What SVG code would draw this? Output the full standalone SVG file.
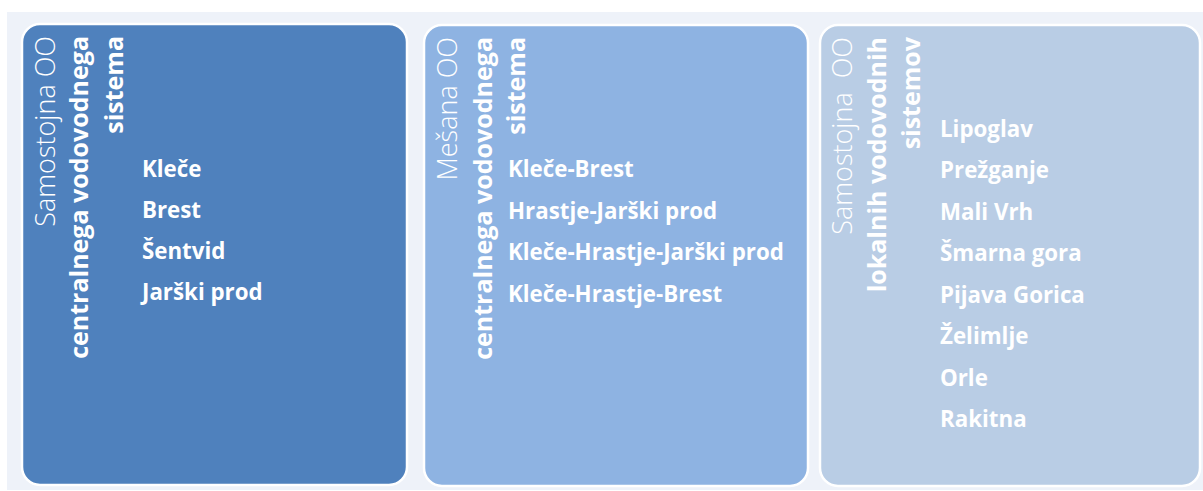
<svg xmlns="http://www.w3.org/2000/svg" width="1203" height="491" viewBox="0 0 1203 491">
  <style>
    .bg { fill: #EEF2F9; }
    .box { stroke: #FFFFFF; stroke-width: 2.5; }
    .b1 { fill: #4F81BD; }
    .b2 { fill: #8EB3E2; }
    .b3 { fill: #B9CDE5; }
    .hdrL { font-family: "Open Sans", "Liberation Sans", sans-serif; font-weight: 300; font-size: 27px; fill: #FFFFFF; text-anchor: end; }
    .hdrB { font-family: "Open Sans", "Liberation Sans", sans-serif; font-weight: 700; font-size: 25px; fill: #FFFFFF; text-anchor: end; }
    .item { font-family: "Open Sans", "Liberation Sans", sans-serif; font-weight: 700; font-size: 22.3px; fill: #FFFFFF; }
  </style>
  <rect class="bg" x="7" y="12" width="1196" height="478"/>

  <g id="node-centralni">
    <rect class="box b1" x="22" y="24" width="385" height="461" rx="18" ry="18"/>
    <text class="hdrL" transform="translate(55,36) rotate(-90)">Samostojna OO</text>
    <text class="hdrB" transform="translate(88,36) rotate(-90)">centralnega vodovodnega</text>
    <text class="hdrB" transform="translate(123,36) rotate(-90)">sistema</text>
    <text class="item" x="142" y="177">Kleče</text>
    <text class="item" x="142" y="218">Brest</text>
    <text class="item" x="142" y="259">Šentvid</text>
    <text class="item" x="142" y="300">Jarški prod</text>
  </g>

  <g id="node-mesana">
    <rect class="box b2" x="424" y="25" width="384" height="461" rx="18" ry="18"/>
    <text class="hdrL" transform="translate(457,37) rotate(-90)">Mešana OO</text>
    <text class="hdrB" transform="translate(492,37) rotate(-90)">centralnega vodovodnega</text>
    <text class="hdrB" transform="translate(525,37) rotate(-90)">sistema</text>
    <text class="item" x="508" y="177">Kleče-Brest</text>
    <text class="item" x="508" y="219">Hrastje-Jarški prod</text>
    <text class="item" x="508" y="260">Kleče-Hrastje-Jarški prod</text>
    <text class="item" x="508" y="302">Kleče-Hrastje-Brest</text>
  </g>

  <g id="node-lokalni">
    <rect class="box b3" x="820" y="25" width="380" height="461" rx="18" ry="18"/>
    <text class="hdrL" xml:space="preserve" transform="translate(852,37) rotate(-90)">Samostojna  OO</text>
    <text class="hdrB" transform="translate(886,37) rotate(-90)">lokalnih vodovodnih</text>
    <text class="hdrB" transform="translate(920,37) rotate(-90)">sistemov</text>
    <text class="item" x="940" y="137">Lipoglav</text>
    <text class="item" x="940" y="178">Prežganje</text>
    <text class="item" x="940" y="220">Mali Vrh</text>
    <text class="item" x="940" y="261">Šmarna gora</text>
    <text class="item" x="940" y="303">Pijava Gorica</text>
    <text class="item" x="940" y="344">Želimlje</text>
    <text class="item" x="940" y="386">Orle</text>
    <text class="item" x="940" y="427">Rakitna</text>
  </g>

  <g id="connectors"></g>
</svg>
